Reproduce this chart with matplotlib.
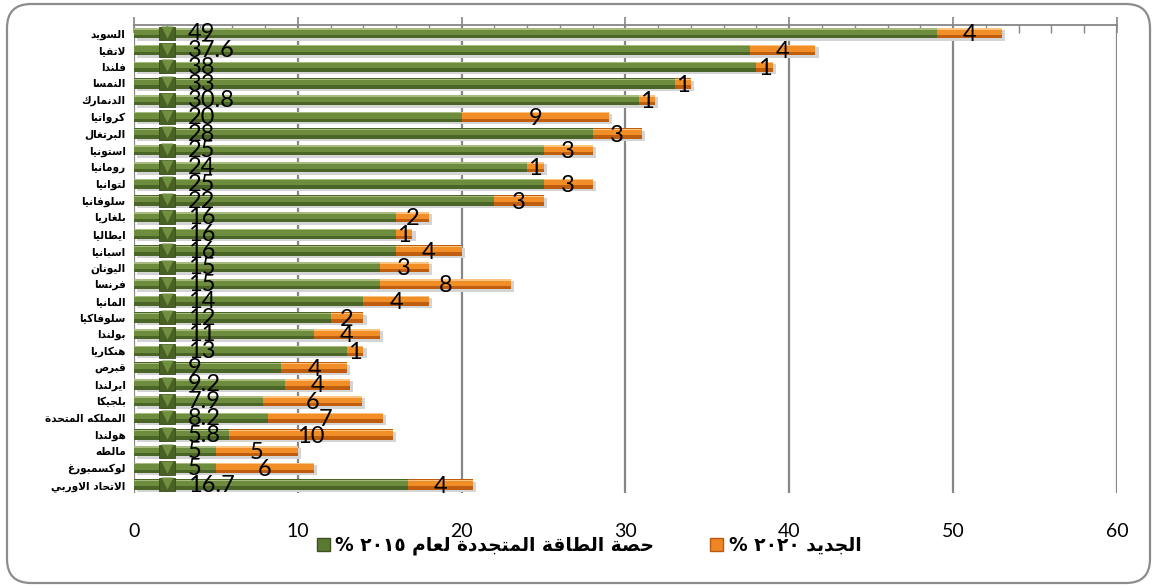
import numpy as np
import matplotlib.pyplot as plt
from matplotlib.patches import FancyBboxPatch, Patch
from matplotlib.ticker import MultipleLocator
from matplotlib.transforms import IdentityTransform

# data (top to bottom)
countries = ["السويد", "لاتفيا", "فلندا", "النمسا", "الدنمارك", "كرواتيا", "البرتغال",
             "استونيا", "رومانيا", "لتوانيا", "سلوفانيا", "بلغاريا", "ايطاليا", "اسبانيا",
             "اليونان", "فرنسا", "المانيا", "سلوفاكيا", "بولندا", "هنكاريا", "قبرص",
             "ايرلندا", "بلجيكا", "المملكه المتحدة", "هولندا", "مالطه", "لوكسمبورغ",
             "الاتحاد الاوربي"]
share_2015 = [49, 37.6, 38, 33, 30.8, 20, 28, 25, 24, 25, 22, 16, 16, 16, 15, 15, 14,
              12, 11, 13, 9, 9.2, 7.9, 8.2, 5.8, 5, 5, 16.7]
new_2020 = [4, 4, 1, 1, 1, 9, 3, 3, 1, 3, 3, 2, 1, 4, 3, 8, 4, 2, 4, 1, 4, 4, 6, 7, 10,
            5, 6, 4]
legend_labels = ["حصة الطاقة المتجددة لعام", "الجديد"]
legend_years = ["٢٠١٥", "٢٠٢٠"]
x_ticks = [0, 10, 20, 30, 40, 50, 60]

# --- small arabic shaper: matplotlib has no shaping / bidi, so build presentation forms by hand
FORMS = {
    'ا': ('\uFE8D', '\uFE8E', None, None),
    'ب': ('\uFE8F', '\uFE90', '\uFE91', '\uFE92'),
    'ة': ('\uFE93', '\uFE94', None, None),
    'ت': ('\uFE95', '\uFE96', '\uFE97', '\uFE98'),
    'ج': ('\uFE9D', '\uFE9E', '\uFE9F', '\uFEA0'),
    'ح': ('\uFEA1', '\uFEA2', '\uFEA3', '\uFEA4'),
    'د': ('\uFEA9', '\uFEAA', None, None),
    'ر': ('\uFEAD', '\uFEAE', None, None),
    'س': ('\uFEB1', '\uFEB2', '\uFEB3', '\uFEB4'),
    'ص': ('\uFEB9', '\uFEBA', '\uFEBB', '\uFEBC'),
    'ط': ('\uFEC1', '\uFEC2', '\uFEC3', '\uFEC4'),
    'ع': ('\uFEC9', '\uFECA', '\uFECB', '\uFECC'),
    'غ': ('\uFECD', '\uFECE', '\uFECF', '\uFED0'),
    'ف': ('\uFED1', '\uFED2', '\uFED3', '\uFED4'),
    'ق': ('\uFED5', '\uFED6', '\uFED7', '\uFED8'),
    'ك': ('\uFED9', '\uFEDA', '\uFEDB', '\uFEDC'),
    'ل': ('\uFEDD', '\uFEDE', '\uFEDF', '\uFEE0'),
    'م': ('\uFEE1', '\uFEE2', '\uFEE3', '\uFEE4'),
    'ن': ('\uFEE5', '\uFEE6', '\uFEE7', '\uFEE8'),
    'ه': ('\uFEE9', '\uFEEA', '\uFEEB', '\uFEEC'),
    'و': ('\uFEED', '\uFEEE', None, None),
    'ي': ('\uFEF1', '\uFEF2', '\uFEF3', '\uFEF4'),
}


def shape(text):
    out = []
    n = len(text)
    i = 0
    while i < n:
        c = text[i]
        if c not in FORMS:
            out.append(c)
            i += 1
            continue
        prev = text[i - 1] if i > 0 else None
        joins_prev = prev in FORMS and FORMS[prev][2] is not None
        if c == 'ل' and i + 1 < n and text[i + 1] == 'ا':
            out.append('\uFEFC' if joins_prev else '\uFEFB')
            i += 2
            continue
        nxt = text[i + 1] if i + 1 < n else None
        joins_next = FORMS[c][2] is not None and nxt in FORMS
        iso, fin, ini, med = FORMS[c]
        if joins_prev and joins_next:
            out.append(med)
        elif joins_prev:
            out.append(fin)
        elif joins_next:
            out.append(ini)
        else:
            out.append(iso)
        i += 1
    # reverse into visual (left to right) order
    return ''.join(out)[::-1]


fig = plt.figure(figsize=(11.55, 5.88), dpi=100)
ax = fig.add_axes([0.116, 0.1616, 0.851, 0.796])

y = np.arange(len(countries))
g = np.array(share_2015, dtype=float)
o = np.array(new_2020, dtype=float)
h = 0.62

# shadow
ax.barh(y + 0.14, g + o, height=h, left=0.2, color='#d4d4d4', zorder=1)
# green bars with a bevel look
ax.barh(y, g, height=h, color='#4b6528', zorder=2)
ax.barh(y - 0.07, g, height=0.34, color='#6d8c3e', zorder=3)
ax.barh(y - 0.25, g, height=0.08, color='#a7bb7e', zorder=4)
# orange bars
ax.barh(y, o, left=g, height=h, color='#c05e10', zorder=2)
ax.barh(y - 0.07, o, left=g, height=0.34, color='#f28e27', zorder=3)
ax.barh(y - 0.25, o, left=g, height=0.08, color='#fcc47f', zorder=4)

# labels
for i in range(len(countries)):
    ax.barh(i, 0.95, left=1.55, height=0.8, color='#4a6126', edgecolor='#3a4c1d', lw=0.6, zorder=5)
    ax.scatter(2.02, i - 0.08, marker='v', s=75, color='#71903f', lw=0, zorder=6)
    ax.text(3.3, i + 0.04, f"{share_2015[i]:g}", fontsize=17, family='Lato',
            ha='left', va='center', zorder=7)
    ax.text(g[i] + o[i] / 2, i + 0.1, f"{new_2020[i]:g}", fontsize=17, family='Lato',
            ha='center', va='center', zorder=7)

ax.set_xlim(0, 60)
ax.set_ylim(len(countries) - 0.5, -0.5)
ax.set_yticks(y)
ax.set_yticklabels([shape(c) for c in countries], fontsize=7.6, fontweight='bold',
                   family='DejaVu Sans')
ax.tick_params(axis='y', length=0, pad=6)

ax.set_xticks(x_ticks)
ax.set_xticklabels([str(t) for t in x_ticks], fontsize=14, family='Lato')
ax.xaxis.set_minor_locator(MultipleLocator(2))
ax.tick_params(axis='x', which='major', top=True, bottom=False, labeltop=False,
               labelbottom=True, direction='inout', length=11, width=1.2,
               color='#868686', pad=16)
ax.tick_params(axis='x', which='minor', top=True, bottom=False, direction='in',
               length=6, width=1, color='#868686')
ax.grid(axis='x', color='#868686', lw=1.6, zorder=0)
ax.set_axisbelow(True)
for s in ['left', 'right', 'bottom']:
    ax.spines[s].set_visible(False)
ax.spines['top'].set_color('#868686')
ax.spines['top'].set_linewidth(1.3)

# legend
handles = [Patch(facecolor='#5b7a31', edgecolor='#3d5020'),
           Patch(facecolor='#ef8524', edgecolor='#b85a10')]
labels = ["% " + legend_years[k] + " " + shape(legend_labels[k]) for k in range(2)]
fig.legend(handles, labels, loc='center', bbox_to_anchor=(0.51, 0.072), ncol=2,
           frameon=False, prop={'family': 'DejaVu Sans', 'weight': 'bold', 'size': 13.4},
           handlelength=0.7, handleheight=0.7, columnspacing=3.0, handletextpad=0.3)

# rounded outer border
border = FancyBboxPatch((7, 5), 1143, 579, boxstyle='round,pad=0,rounding_size=24',
                        transform=IdentityTransform(), facecolor='none',
                        edgecolor='#8c8c8c', lw=1.6)
fig.patches.append(border)

fig.savefig('out.png', dpi=100)
